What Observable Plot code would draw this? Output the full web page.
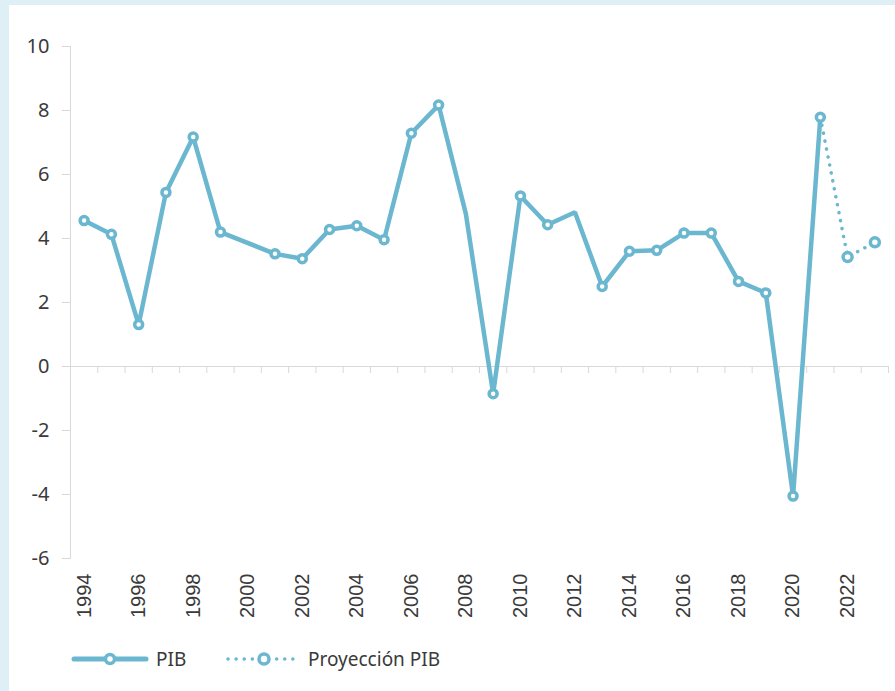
<!DOCTYPE html>
<html>
<head>
<meta charset="utf-8">
<script src="https://cdn.jsdelivr.net/npm/d3@7"></script>
<script src="https://cdn.jsdelivr.net/npm/@observablehq/plot@0.6"></script>
<style>
  html, body { margin: 0; padding: 0; }
  body { width: 895px; height: 691px; background: #deeff5; position: relative; overflow: hidden; font-family: "Noto Sans", sans-serif; }
  #panel { position: absolute; left: 9px; top: 5px; right: 0; bottom: 0; background: #ffffff; }
  #chart { position: absolute; left: 0; top: 0; }
  #chart svg text { fill: #3a3a3a; }
  #legend { position: absolute; left: 0; top: 645px; width: 895px; height: 28px; }
  .lg-item { position: absolute; top: 0; height: 28px; display: flex; align-items: center; }
  .lg-text { font-size: 19px; color: #3a3a3a; font-family: "Noto Sans", sans-serif; }
</style>
</head>
<body>
<div id="panel"></div>
<div id="chart"></div>
<div id="legend"></div>
<script>
// ---- data ----
const years = [1994,1995,1996,1997,1998,1999,2000,2001,2002,2003,2004,2005,2006,2007,2008,
               2009,2010,2011,2012,2013,2014,2015,2016,2017,2018,2019,2020,2021];
const pib   = [4.56,4.13,1.31,5.44,7.17,4.2,null,3.52,3.37,4.28,4.4,3.96,7.29,8.17,4.77,
               -0.85,5.33,4.43,4.82,2.5,3.6,3.63,4.17,4.17,2.66,2.3,-4.05,7.79];
const projYears = [2021,2022,2023];
const projPib   = [7.79,3.42,3.88];
const yearsWithoutMarker = [2008, 2012];
const yTicks = [-6,-4,-2,0,2,4,6,8,10];
const xLabels = [1994,1996,1998,2000,2002,2004,2006,2008,2010,2012,2014,2016,2018,2020,2022];
const seriesNames = ["PIB", "Proyección PIB"];

const color = "#6bb7d0";
const firstYear = 1994, lastYear = 2023;

const pibData = years.map((y, i) => ({year: y, value: pib[i]})).filter(d => d.value != null);
const pibMarkers = pibData.filter(d => !yearsWithoutMarker.includes(d.year));
const projData = projYears.map((y, i) => ({year: y, value: projPib[i]}));
const projMarkers = projData.slice(1);
const boundaries = d3.range(firstYear - 0.5, lastYear + 1, 1);

const chart = Plot.plot({
  width: 895,
  height: 620,
  marginLeft: 70,
  marginRight: 7,
  marginTop: 46,
  marginBottom: 62,
  style: {background: "transparent", color: "#d9d9d9", fontFamily: "Noto Sans", fontSize: "20px", overflow: "visible"},
  x: {type: "linear", domain: [firstYear - 0.5, lastYear + 0.5], axis: null},
  y: {domain: [-6, 10], ticks: yTicks, tickSize: 8, tickPadding: 13, tickFormat: d => String(d), label: null, line: true},
  marks: [
    Plot.ruleY([0], {stroke: "#d9d9d9"}),
    Plot.ruleX(boundaries, {x: d => d, y1: 0, y2: 0, insetBottom: -7, stroke: "#d9d9d9"}),
    Plot.text(xLabels, {x: d => d, y: -6, text: d => String(d), rotate: -90, textAnchor: "end",
                        dy: 15, fontFamily: "Liberation Sans", fontSize: 20, fill: "#3a3a3a"}),
    Plot.line(projData, {x: "year", y: "value", stroke: color, strokeWidth: 3.5,
                         strokeDasharray: "0.1 8", strokeLinecap: "round"}),
    Plot.line(pibData, {x: "year", y: "value", stroke: color, strokeWidth: 4.5, strokeLinejoin: "miter"}),
    Plot.dot(pibMarkers, {x: "year", y: "value", r: 4, fill: "white", stroke: color, strokeWidth: 3.5}),
    Plot.dot(projMarkers, {x: "year", y: "value", r: 4.5, fill: "white", stroke: color, strokeWidth: 3.5})
  ]
});
document.getElementById("chart").appendChild(chart);

// ---- legend ----
const legend = document.getElementById("legend");
function swatch(dashed) {
  const w = 80, h = 28;
  const s = d3.create("svg").attr("width", w).attr("height", h);
  s.append("line").attr("x1", 3).attr("x2", w - 5).attr("y1", h/2).attr("y2", h/2)
    .attr("stroke", color).attr("stroke-width", dashed ? 3.5 : 5)
    .attr("stroke-linecap", "round")
    .attr("stroke-dasharray", dashed ? "0.1 8" : null);
  s.append("circle").attr("cx", (w - 2) / 2).attr("cy", h/2).attr("r", dashed ? 5 : 4.5)
    .attr("fill", "white").attr("stroke", color).attr("stroke-width", 3.5);
  return s.node();
}
const items = [
  {name: seriesNames[0], dashed: false, left: 71, textLeft: 156},
  {name: seriesNames[1], dashed: true, left: 225, textLeft: 308}
];
for (const it of items) {
  const sw = document.createElement("div");
  sw.className = "lg-item"; sw.style.left = it.left + "px";
  sw.appendChild(swatch(it.dashed));
  legend.appendChild(sw);
  const tx = document.createElement("div");
  tx.className = "lg-item lg-text"; tx.style.left = it.textLeft + "px";
  tx.textContent = it.name;
  legend.appendChild(tx);
}
</script>
</body>
</html>
